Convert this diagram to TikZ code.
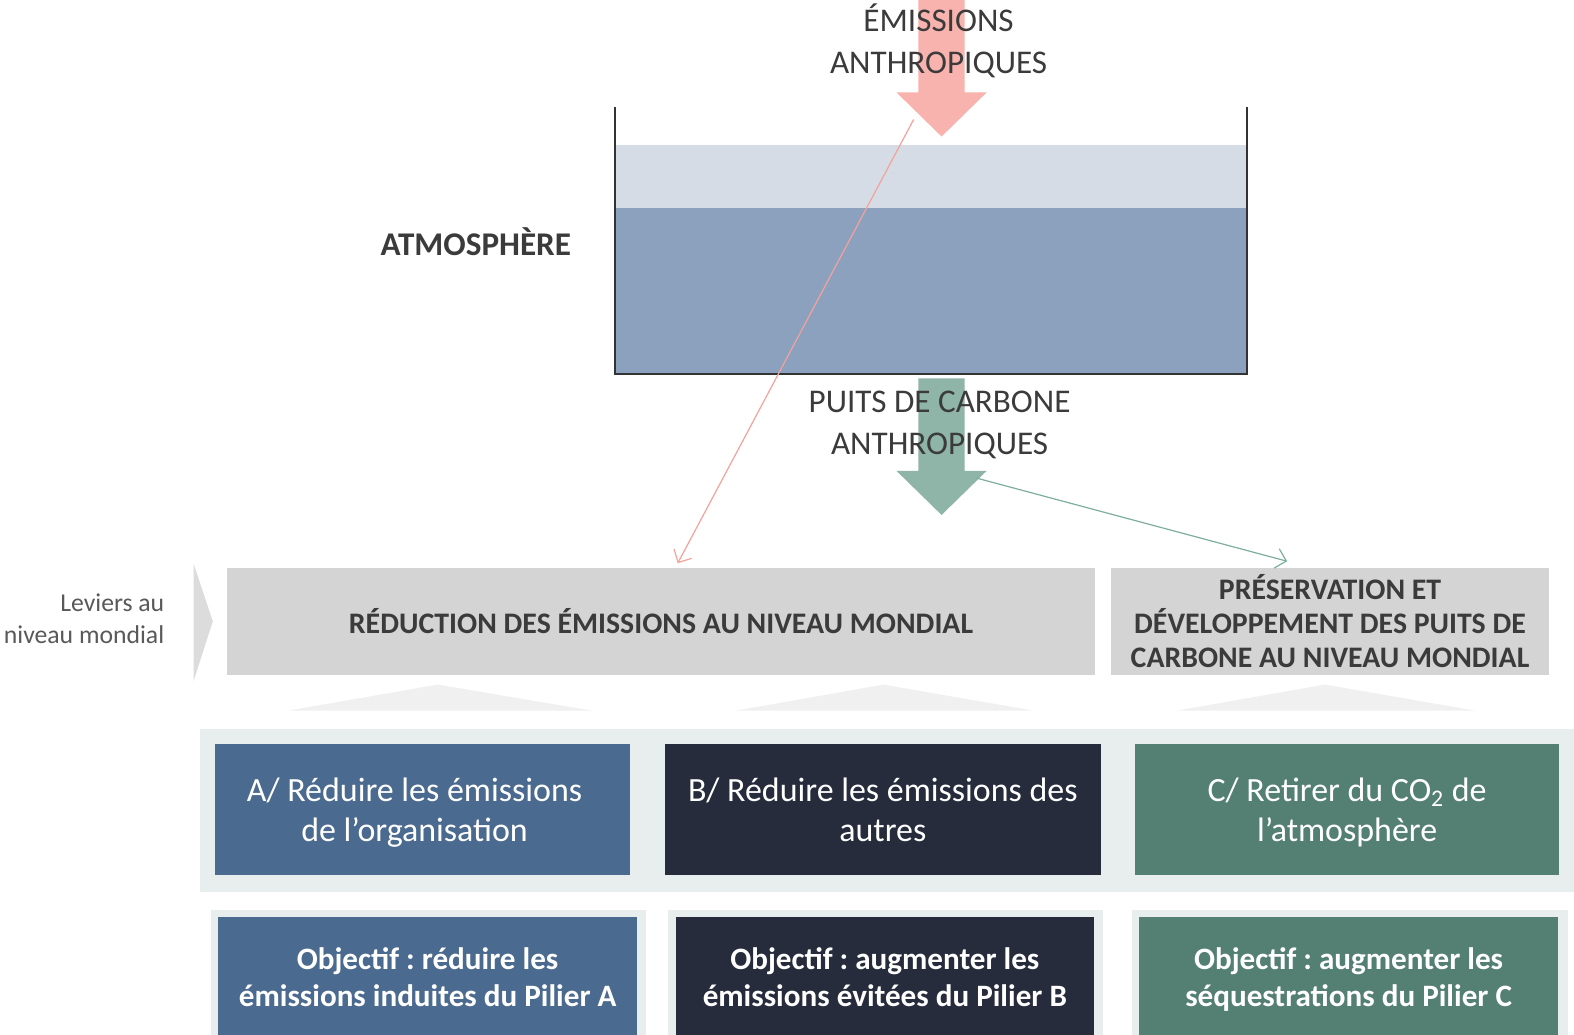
\documentclass[tikz,border=0pt]{standalone}
\usepackage{fontspec}
\setmainfont{Carlito}
\frenchspacing
\usetikzlibrary{arrows.meta}
\definecolor{pinkarrow}{HTML}{F9B3AE}
\definecolor{pinkline}{HTML}{F3A29C}
\definecolor{greenarrow}{HTML}{8FB5A8}
\definecolor{greenline}{HTML}{7DAE9E}
\definecolor{lightband}{HTML}{D6DCE5}
\definecolor{darkband}{HTML}{8BA1BD}
\definecolor{tankline}{HTML}{333333}
\definecolor{txtdark}{HTML}{3B3B3B}
\definecolor{txtgray}{HTML}{595959}
\definecolor{graybox}{HTML}{D4D4D4}
\definecolor{pyr}{HTML}{F0F0F0}
\definecolor{chev}{HTML}{DCDCDC}
\definecolor{bandbg}{HTML}{E8EEEE}
\definecolor{colA}{HTML}{4B6A8F}
\definecolor{colB}{HTML}{262C3C}
\definecolor{colC}{HTML}{547F73}
\newcommand{\ptop}{\rule{0pt}{18pt}}
\newcommand{\gtop}{\rule{0pt}{15.95pt}}
\tikzset{
  bigtitle/.style={text=txtdark, align=center, font=\fontsize{16.5}{21}\selectfont, inner sep=0pt},
  grayrect/.style={fill=graybox, inner sep=0pt, minimum height=53pt, text=txtdark, align=center, font=\bfseries\fontsize{14.85}{17}\selectfont},
  pillar/.style={inner sep=0pt, minimum height=65.5pt, text=white, align=center, font=\fontsize{16.9}{20}\selectfont},
  goal/.style={inner sep=0pt, minimum height=60pt, minimum width=208.5pt, text=white, align=center, font=\bfseries\fontsize{15.5}{18.5}\selectfont},
  thinarrow/.style={line width=0.6pt, -{Straight Barb[length=5pt,width=10pt]}},
}
\begin{document}
\begin{tikzpicture}[x=0.5pt,y=-0.5pt]
\useasboundingbox (0,0) rectangle (1574,1034);
\fill[white] (0,0) rectangle (1574,1034);
\clip (0,0) rectangle (1574,1034);
\begin{scope}[scale=1.0038, transform shape]
% tank
\fill[lightband] (614,144) rectangle (1241,207);
\fill[darkband] (614,207) rectangle (1241,373);
\draw[tankline, line width=1pt] (613,107) -- (613,373) -- (1242,373) -- (1242,107);
% pink big arrow
\fill[pinkarrow] (915,0) -- (961,0) -- (961,92) -- (983,92) -- (938,136) -- (893,92) -- (915,92) -- cycle;
\node[bigtitle] (emis) at (935,41) {ÉMISSIONS\\ANTHROPIQUES};
% green big arrow
\fill[greenarrow] (915,377) -- (961,377) -- (961,469) -- (983,469) -- (938,513) -- (893,469) -- (915,469) -- cycle;
\node[bigtitle] (puits) at (936,423.5) {PUITS DE CARBONE\\ANTHROPIQUES};
% atmosphere label
\node[text=txtdark, font=\bfseries\fontsize{16.5}{20}\selectfont, inner sep=0pt] (atm) at (474,241) {ATMOSPHÈRE};
% left label
\node[text=txtgray, align=right, anchor=east, font=\fontsize{12.8}{16}\selectfont, inner sep=0pt] (lev) at (164,616) {Leviers au\\niveau mondial};
\fill[chev] (193,562) -- (212,619) -- (193,678) -- cycle;
% gray boxes
\node[grayrect, minimum width=432.5pt] (red) at (658.5,619) {RÉDUCTION DES ÉMISSIONS AU NIVEAU MONDIAL};
\node[grayrect, minimum width=218pt] (pres) at (1325,619) {PRÉSERVATION ET\\DÉVELOPPEMENT DES PUITS DE\\CARBONE AU NIVEAU MONDIAL};
% pyramids
\fill[pyr] (287,708) -- (436,682) -- (590,708) -- cycle;
\fill[pyr] (733,708) -- (880,682) -- (1030,708) -- cycle;
\fill[pyr] (1172,708) -- (1320,682) -- (1470,708) -- cycle;
% band
\fill[bandbg] (199,726) rectangle (1580,889);
\node[pillar, fill=colA, minimum width=207pt] (pA) at (421,806.5) {\ptop A/ Réduire les émissions\hspace*{8pt}\\\strut de l’organisation\hspace*{8pt}};
\node[pillar, fill=colB, minimum width=217.5pt] (pB) at (879.5,806.5) {\ptop B/ Réduire les émissions des\\\strut autres};
\node[pillar, fill=colC, minimum width=211pt] (pC) at (1342,806.5) {\ptop C/ Retirer du CO\textsubscript{2} de\\\strut l’atmosphère};
% bottom panels
\fill[bandbg] (210,907) rectangle (644,1040);
\fill[bandbg] (665,907) rectangle (1099,1040);
\fill[bandbg] (1128,907) rectangle (1562,1040);
\node[goal, fill=colA] (gA) at (426,974) {\gtop Objectif : réduire les\\\strut émissions induites du Pilier A};
\node[goal, fill=colB] (gB) at (881.5,974) {\gtop Objectif : augmenter les\\\strut émissions évitées du Pilier B};
\node[goal, fill=colC] (gC) at (1343.5,974) {\gtop Objectif : augmenter les\\\strut séquestrations du Pilier C};
% thin connectors
\coordinate (ps) at (910,119);
\coordinate (pe) at (675,561);
\coordinate (gs) at (972,476);
\coordinate (ge) at (1282,559);
\draw[thinarrow, pinkline] (ps) -- (pe);
\draw[thinarrow, greenline] (gs) -- (ge);
\end{scope}
\end{tikzpicture}
\end{document}
